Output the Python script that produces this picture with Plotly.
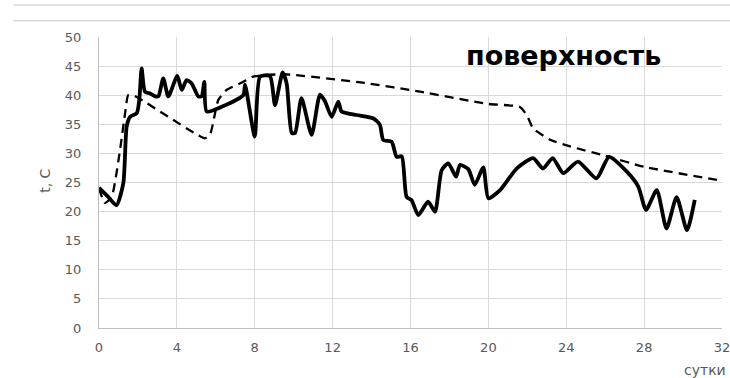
import plotly.graph_objects as go

# Measured surface temperature, t (°C) by day
measured_days = [0, 0.45, 0.9, 1.25, 1.42, 1.6, 1.94, 2.07, 2.19, 2.36, 2.62, 2.88, 3.05,
                 3.3, 3.56, 4.02, 4.25, 4.5, 4.76, 5.1, 5.27, 5.41, 5.53, 6.3, 7.41,
                 7.5, 8.0, 8.27, 8.78, 9.04, 9.43, 9.64, 9.9, 10.07, 10.4, 10.92, 11.35,
                 11.6, 11.95, 12.29, 12.46, 13.23, 14.1, 14.43, 14.6, 15.03, 15.29,
                 15.55, 15.8, 16.05, 16.4, 16.9, 17.26, 17.6, 17.94, 18.34, 18.54,
                 18.97, 19.3, 19.74, 20.0, 20.6, 21.45, 22.3, 22.8, 23.3, 23.85, 24.6,
                 25.55, 26.2, 27.1, 27.7, 28.1, 28.65, 29.15, 29.67, 30.2, 30.6]
measured_temp = [24.1, 22.6, 21.1, 24.9, 34.6, 36.3, 36.9, 39.2, 44.6, 40.6, 40.3, 39.8, 39.8,
                 42.9, 39.8, 43.3, 40.9, 42.6, 42.0, 39.8, 39.8, 42.3, 37.2, 38.0, 40.0,
                 41.8, 32.9, 43.2, 43.3, 38.3, 43.9, 42.0, 33.5, 33.5, 39.5, 33.2, 40.1,
                 39.0, 36.3, 38.9, 37.2, 36.6, 36.0, 34.9, 32.3, 32.0, 29.4,
                 29.5, 22.5, 22.0, 19.4, 21.7, 20.0, 27.1, 28.3, 26.0, 28.0,
                 27.3, 24.6, 27.6, 22.3, 23.7, 27.4, 29.2, 27.4, 29.2, 26.6, 28.6,
                 25.7, 29.4, 26.9, 24.3, 20.3, 23.7, 17.1, 22.5, 16.8, 22.0]

# Calculated surface temperature
model_days = [0, 0.3, 0.65, 1.08, 1.34, 1.5, 1.76, 5.44, 5.7, 6.13, 6.56, 7.41, 7.92,
              9.47, 13.66, 16.5, 20.0, 21.6, 21.97, 22.3, 23.2, 24.2, 26.0, 28.0, 32.0]
model_temp = [24.0, 21.5, 22.5, 30.6, 36.9, 40.0, 40.0, 32.6, 33.2, 39.2, 40.9, 42.3, 43.2,
              43.6, 42.1, 40.6, 38.5, 38.0, 36.6, 34.3, 32.3, 31.2, 29.6, 27.7, 25.3]

x_ticks = [0, 4, 8, 12, 16, 20, 24, 28, 32]
y_ticks = [0, 5, 10, 15, 20, 25, 30, 35, 40, 45, 50]

title_text = "поверхность"
x_title = "сутки"
y_title = "t, C"

grid = "#d9d9d9"
tick_color = "#595959"

fig = go.Figure()
fig.add_trace(go.Scatter(
    x=model_days, y=model_temp, mode="lines",
    line=dict(color="black", width=2.3, dash="9px,6px", shape="spline", smoothing=0.5),
    hoverinfo="skip", showlegend=False,
))
fig.add_trace(go.Scatter(
    x=measured_days, y=measured_temp, mode="lines",
    line=dict(color="black", width=3.8, shape="spline", smoothing=0.6),
    hoverinfo="skip", showlegend=False,
))

fig.update_layout(
    width=730, height=378,
    margin=dict(l=99, r=8, t=37, b=50, autoexpand=False),
    paper_bgcolor="white", plot_bgcolor="white",
    font=dict(family="DejaVu Sans", size=13, color=tick_color),
    xaxis=dict(
        range=[0, 32], tickvals=x_ticks, ticktext=[str(v) for v in x_ticks],
        showgrid=True, gridcolor=grid, gridwidth=1,
        showline=True, linecolor="#bfbfbf", linewidth=1,
        zeroline=False, ticks="", ticklabelstandoff=7,
        ticklabeloverflow="allow", automargin=False,
        tickfont=dict(size=13, color=tick_color),
    ),
    yaxis=dict(
        range=[0, 50], tickvals=y_ticks, ticktext=[str(v) for v in y_ticks],
        showgrid=True, gridcolor=grid, gridwidth=1,
        showline=True, linecolor="#bfbfbf", linewidth=1,
        zeroline=False, ticks="", ticklabelstandoff=14, automargin=False,
        tickfont=dict(size=13, color=tick_color),
    ),
    shapes=[
        dict(type="line", xref="paper", yref="paper", x0=-0.137, x1=1.02,
             y0=1.110, y1=1.110, line=dict(color=grid, width=1.5)),
        dict(type="line", xref="paper", yref="paper", x0=-0.137, x1=1.02,
             y0=1.056, y1=1.056, line=dict(color=grid, width=1.5)),
    ],
    annotations=[
        dict(text=title_text, xref="paper", yref="paper", x=0.745, y=0.935,
             xanchor="center", yanchor="middle", showarrow=False,
             font=dict(family="DejaVu Sans", size=27, color="black", weight="bold")),
        dict(text=y_title, xref="paper", yref="paper", x=-0.087, y=0.505,
             xanchor="center", yanchor="middle", textangle=-90, showarrow=False,
             font=dict(family="DejaVu Sans", size=14, color=tick_color)),
        dict(text=x_title, xref="paper", yref="paper", x=0.972, y=-0.146,
             xanchor="center", yanchor="middle", showarrow=False,
             font=dict(family="DejaVu Sans", size=14, color=tick_color)),
    ],
)

fig.write_html("out.html")
